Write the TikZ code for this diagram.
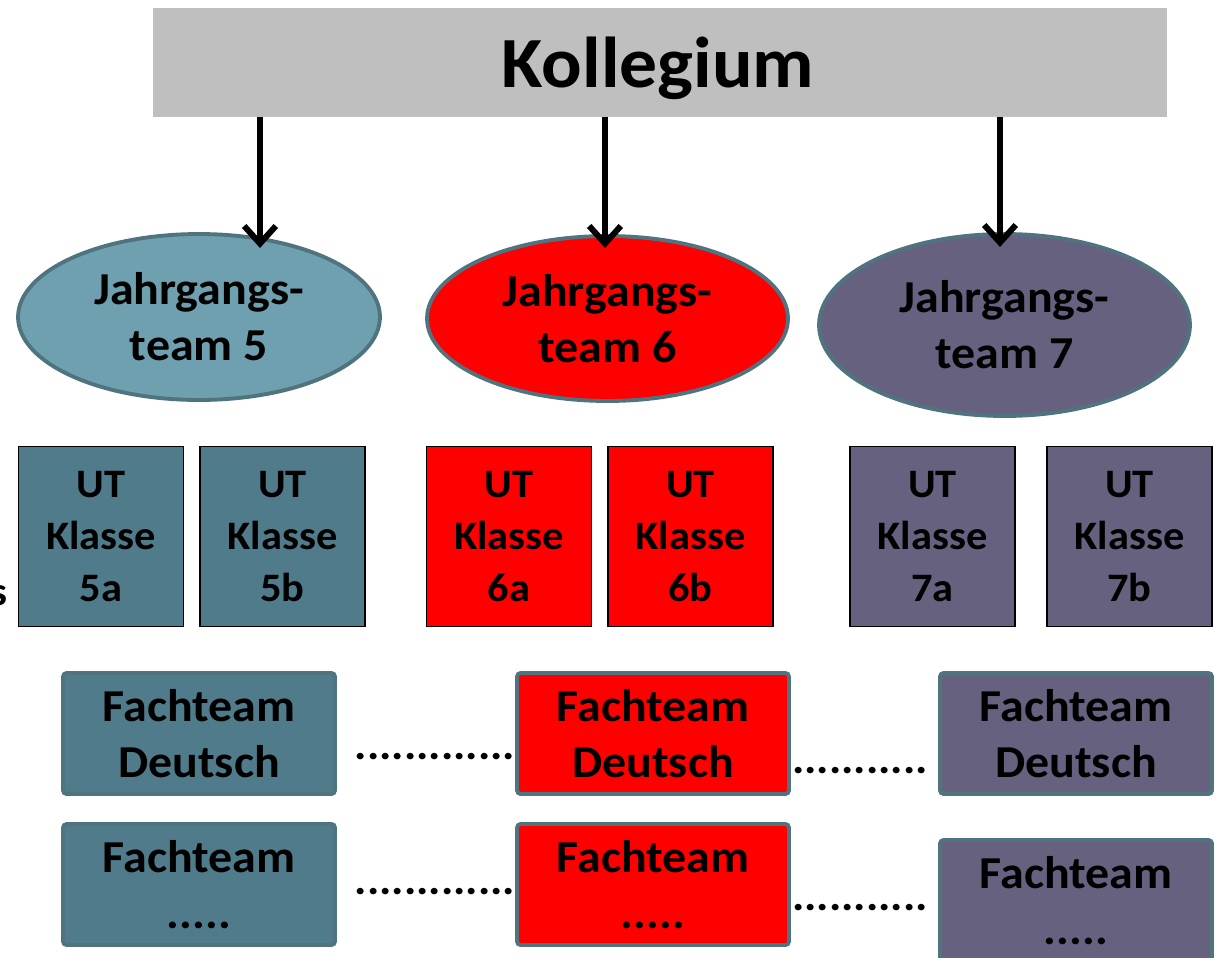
\documentclass[tikz,border=0pt]{standalone}
\usepackage{fontspec}
\setmainfont{Carlito}[FakeStretch=1.05]
\usetikzlibrary{shapes.geometric,arrows.meta}

\definecolor{kollgray}{HTML}{BFBFBF}
\definecolor{tealA}{HTML}{6EA0AF}
\definecolor{tealB}{HTML}{4F7B8B}
\definecolor{rimteal}{HTML}{4F737F}
\definecolor{violet7}{HTML}{66617F}

\begin{document}
\begin{tikzpicture}[x=0.02cm, y=-0.02cm,
    every node/.style={align=center, text=black},
    team/.style={ellipse, draw=rimteal, line width=2.2pt, minimum width=7.24cm, minimum height=3.32cm, inner sep=0pt, font=\bfseries\fontsize{26}{32}\selectfont},
    utbox/.style={rectangle, draw=black, line width=0.8pt, minimum width=3.3cm, minimum height=3.6cm, inner sep=0pt, font=\bfseries\fontsize{23}{29.6}\selectfont},
    fachbox/.style={rectangle, rounded corners=2pt, draw=rimteal, line width=2.2pt, minimum width=5.44cm, minimum height=2.42cm, inner sep=0pt, font=\bfseries\fontsize{26}{32}\selectfont},
    dots/.style={inner sep=0pt, anchor=base, font=\bfseries\fontsize{25}{32}\selectfont},
    arr/.style={line width=3.4pt, -{Straight Barb[length=10pt,width=18pt]}}]
    % Page frame
    \useasboundingbox (0,0) rectangle (1217,957);
    \def\fdots{.....}

    % Top bar
    \node[fill=kollgray, minimum width=20.28cm, minimum height=2.18cm, inner sep=0pt] (koll) at (660,62.5) {};
    \node[anchor=base, inner sep=0pt, font=\bfseries\fontsize{41}{48}\selectfont] (kolltext) at (658,87) {Kollegium};

    % Jahrgangsteams
    \node[team, fill=tealA] (jt5) at (199,317) {Jahrgangs-\\team 5};
    \node[team, fill=red, minimum width=7.22cm, minimum height=3.3cm] (jt6) at (607.5,318.5) {Jahrgangs-\\team 6};
    \node[team, fill=violet7, minimum width=7.42cm, minimum height=3.64cm] (jt7) at (1004.5,325) {Jahrgangs-\\team 7};

    % Arrow ends
    \coordinate (t5) at (260,248);
    \coordinate (t6) at (605,248);
    \coordinate (t7) at (1000,247);
    \foreach \t in {t5,t6,t7} {
      \draw[arr] (koll.south -| \t) -- (\t);
    }

    % cut-off text on the left
    \node[anchor=base east, inner sep=0pt, font=\bfseries\fontsize{23}{29.6}\selectfont] (cut) at (8,605) {s};

    % UT boxes
    \foreach \n/\x/\col/\k in {u5a/101/tealB/5a, u5b/282.5/tealB/5b, u6a/509/red/6a, u6b/690.5/red/6b, u7a/932.5/violet7/7a, u7b/1129.5/violet7/7b} {
      \node[utbox, fill=\col] (\n) at (\x,536.5) {UT\\Klasse\\\k};
    }

    % Fachteams
    \foreach \n/\x/\y/\col in {f5d/199/733.5/tealB, f6d/653/733.5/red, f7d/1076/733.5/violet7} {
      \node[fachbox, fill=\col] (\n) at (\x,\y) {Fachteam\\Deutsch};
    }
    \foreach \n/\x/\y/\col in {f5x/199/884.5/tealB, f6x/653/884.5/red, f7x/1076/900.5/violet7} {
      \node[fachbox, fill=\col] (\n) at (\x,\y) {Fachteam\\\fdots};
    }

    % dotted gaps
    \node[dots] (d1) at (435,759) {.............};
    \node[dots] (d2) at (860,773) {...........};
    \node[dots] (d3) at (435,894) {.............};
    \node[dots] (d4) at (860,910) {...........};
\end{tikzpicture}
\end{document}
